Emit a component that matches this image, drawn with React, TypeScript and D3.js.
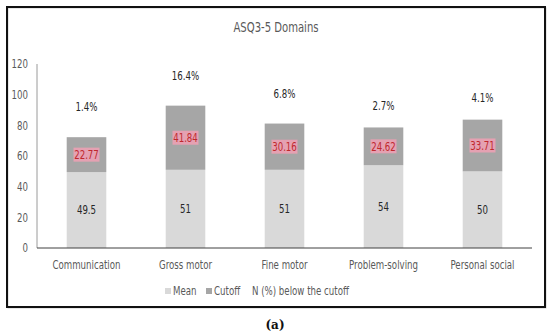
import React, { useEffect, useRef } from 'react';
import * as d3 from 'd3';

const categories = ['Communication', 'Gross motor', 'Fine motor', 'Problem-solving', 'Personal social'];
const meanValues = [49.5, 51, 51, 54, 50];
const cutoffValues = [22.77, 41.84, 30.16, 24.62, 33.71];
const belowCutoff = ['1.4%', '16.4%', '6.8%', '2.7%', '4.1%'];
// where the (transparent) "N (%) below the cutoff" labels sit, in axis units
const belowLabelPos = [92, 112, 100.5, 92.5, 98];
const yTicks = [0, 20, 40, 60, 80, 100, 120];

const FONT = "'DejaVu Sans Condensed', 'Liberation Sans Narrow', sans-serif";
const SQUEEZE = 0.8; // narrow the glyphs to look like Calibri

export default function App() {
  const svgRef = useRef<SVGSVGElement>(null);

  useEffect(() => {
    if (!svgRef.current) return;
    const svg = d3.select(svgRef.current);
    svg.selectAll('*').remove();

    const width = 550;
    const height = 336;
    const margin = { left: 37, right: 18, top: 64, bottom: 88 };

    // text helper: condensed label at (x, y)
    const label = (
      parent: d3.Selection<any, any, any, any>,
      px: number, py: number, txt: string,
      opts: { anchor?: string; fill?: string; size?: number } = {}
    ) => parent.append('text')
      .attr('transform', `translate(${px},${py}) scale(${SQUEEZE},1)`)
      .attr('dy', '0.35em')
      .attr('text-anchor', opts.anchor ?? 'middle')
      .attr('font-family', FONT)
      .attr('font-size', opts.size ?? 12)
      .attr('fill', opts.fill ?? '#595959')
      .text(txt);

    svg.append('rect').attr('width', width).attr('height', height).attr('fill', '#fff');

    // frame
    svg.append('rect')
      .attr('x', 8).attr('y', 8).attr('width', 538).attr('height', 300)
      .attr('fill', 'none').attr('stroke', '#cfcfcf').attr('stroke-width', 1);
    svg.append('rect')
      .attr('x', 7).attr('y', 7).attr('width', 538).attr('height', 300)
      .attr('fill', 'none').attr('stroke', '#111').attr('stroke-width', 2);

    const x = d3.scaleBand<string>()
      .domain(categories)
      .range([margin.left, width - margin.right])
      .paddingInner(0.6)
      .paddingOuter(0.3);

    const y = d3.scaleLinear()
      .domain([0, 120])
      .range([height - margin.bottom, margin.top]);

    // title
    label(svg, 276, 27, 'ASQ3-5 Domains', { size: 14 });

    // y axis
    svg.append('line')
      .attr('x1', margin.left).attr('x2', margin.left)
      .attr('y1', y(120)).attr('y2', y(0))
      .attr('stroke', '#9a9a9a').attr('stroke-width', 1);

    const yg = svg.append('g');
    yTicks.forEach(t => label(yg, 28, y(t), String(t), { anchor: 'end' }));

    const stack = categories.map((c, i) => ({
      cat: c,
      mean: meanValues[i],
      cutoff: cutoffValues[i],
      pct: belowCutoff[i],
      pctPos: belowLabelPos[i],
    }));

    const bars = svg.append('g');
    bars.selectAll('rect.mean')
      .data(stack)
      .join('rect')
      .attr('class', 'mean')
      .attr('x', d => x(d.cat)!)
      .attr('width', x.bandwidth())
      .attr('y', d => y(d.mean))
      .attr('height', d => y(0) - y(d.mean))
      .attr('fill', '#d9d9d9');

    bars.selectAll('rect.cut')
      .data(stack)
      .join('rect')
      .attr('class', 'cut')
      .attr('x', d => x(d.cat)!)
      .attr('width', x.bandwidth())
      .attr('y', d => y(d.mean + d.cutoff))
      .attr('height', d => y(d.mean) - y(d.mean + d.cutoff))
      .attr('fill', '#a6a6a6');

    // x axis baseline
    svg.append('line')
      .attr('x1', margin.left).attr('x2', width - margin.right)
      .attr('y1', y(0)).attr('y2', y(0))
      .attr('stroke', '#404040').attr('stroke-width', 1);

    const lbls = svg.append('g');
    stack.forEach(d => {
      const cx = x(d.cat)! + x.bandwidth() / 2;
      // mean value
      label(lbls, cx, y(d.mean / 2), String(d.mean), { fill: '#262626' });
      // cutoff value with pink highlight
      const cy = y(d.mean + d.cutoff / 2);
      lbls.append('rect')
        .attr('x', cx - 13).attr('y', cy - 7).attr('width', 26).attr('height', 14)
        .attr('fill', '#f0a0b4').attr('opacity', 0.85);
      label(lbls, cx, cy, d.cutoff.toFixed(2), { fill: '#c0282d' });
      // N (%) below the cutoff
      label(lbls, cx, y(d.pctPos), d.pct, { fill: '#262626' });
      // category
      label(lbls, cx, 265, d.cat);
    });

    // legend
    const legend = svg.append('g');
    const legendItems = [
      { label: 'Mean', color: '#d9d9d9', x: 165 },
      { label: 'Cutoff', color: '#a6a6a6', x: 206 },
    ];
    legendItems.forEach(it => {
      legend.append('rect').attr('x', it.x).attr('y', 288).attr('width', 6).attr('height', 6).attr('fill', it.color);
      label(legend, it.x + 8, 291, it.label, { anchor: 'start' });
    });
    label(legend, 252, 291, 'N (%) below the cutoff', { anchor: 'start' });

    // caption
    svg.append('text')
      .attr('x', 275).attr('y', 325)
      .attr('dy', '0.35em').attr('text-anchor', 'middle')
      .attr('font-family', "'DejaVu Serif', serif").attr('font-size', 12)
      .attr('font-weight', 'bold')
      .attr('fill', '#111')
      .text('(a)');
  }, []);

  return (
    <svg
      ref={svgRef}
      width={550}
      height={336}
      style={{ position: 'absolute', left: 0, top: 0, display: 'block' }}
    />
  );
}
